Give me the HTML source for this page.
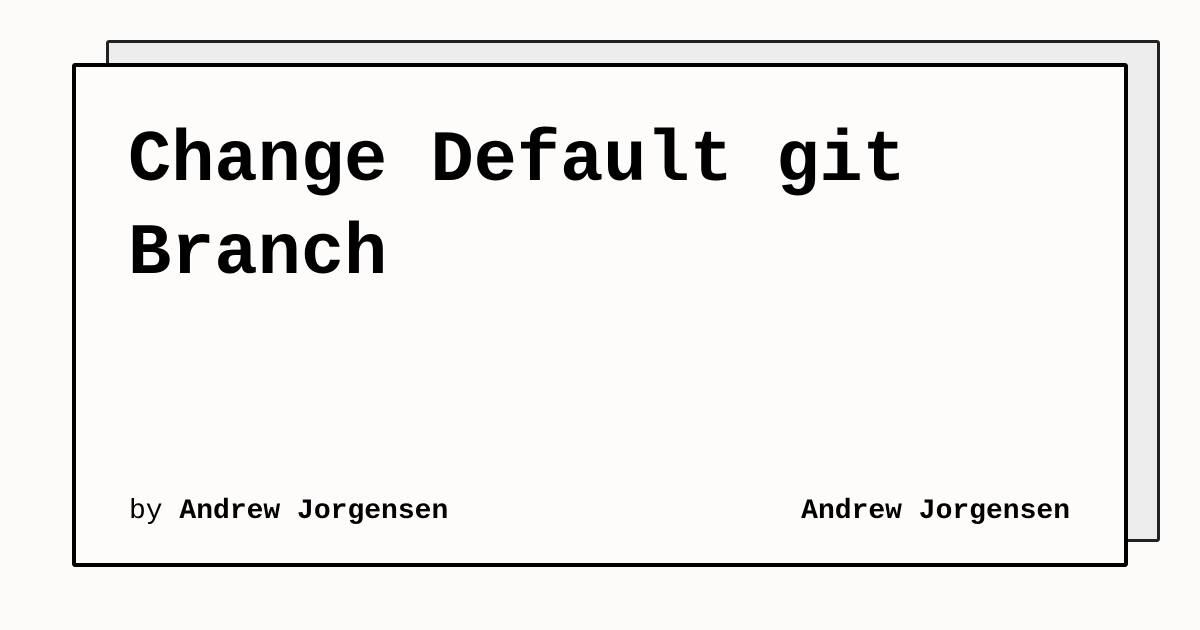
<!DOCTYPE html>
<html><head><style>
body{margin:0;width:1200px;height:630px;background:#fcfbf9;position:relative;overflow:hidden;font-family:"Liberation Mono",monospace;}
.back{position:absolute;left:106px;top:40px;width:1048px;height:496px;background:#ededed;border:3px solid #222;border-radius:3px;}
.front{position:absolute;left:72px;top:63px;width:1048px;height:496px;background:#fdfcfa;border:4px solid #000;border-radius:3px;}
.title{position:absolute;left:128px;top:115px;font-size:72px;font-weight:bold;line-height:93px;color:#000;}
.by{position:absolute;left:129px;top:496px;font-size:28px;color:#000;}
.by b{font-weight:bold;}
.right{position:absolute;right:130px;top:496px;font-size:28px;font-weight:bold;color:#000;}
</style></head><body>
<div class="back"></div>
<div class="front"></div>
<div class="title">Change Default git<br>Branch</div>
<div class="by">by <b>Andrew Jorgensen</b></div>
<div class="right">Andrew Jorgensen</div>
</body></html>
